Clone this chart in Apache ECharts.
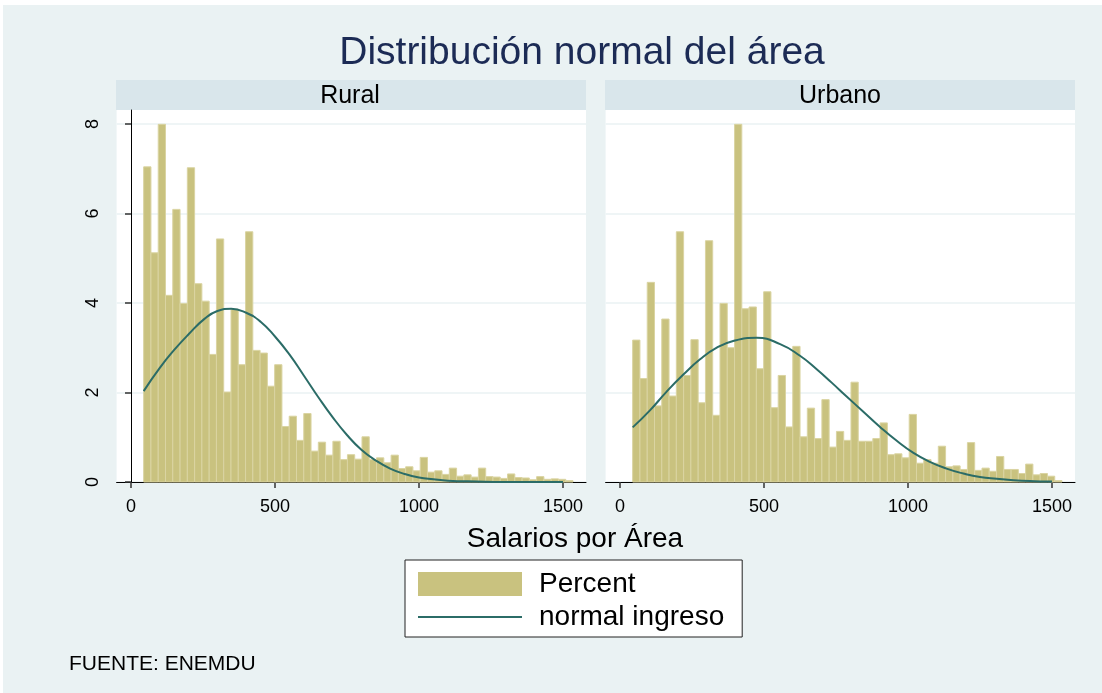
<!DOCTYPE html>
<html>
<head>
<meta charset="utf-8">
<script src="https://cdn.jsdelivr.net/npm/echarts@6/dist/echarts.min.js"></script>
<style>
html,body{margin:0;padding:0;background:#ffffff;}
#bg{position:absolute;left:3px;top:5px;width:1099px;height:688px;background:#EAF2F3;}
#chart{position:absolute;left:0;top:0;width:1102px;height:693px;}
</style>
</head>
<body>
<div id="bg"></div>
<div id="chart"></div>
<script>
// ---- data ----
const panels = ['Rural', 'Urbano'];
const BIN_START = 44;      // lower edge of first bin (Salarios)
const BIN_WIDTH = 25.27;   // bin width
const ruralPct = [7.04,5.12,7.99,4.17,6.09,3.99,7.02,4.43,4.04,2.85,
  5.43,2.01,3.86,2.62,5.59,2.94,2.88,2.14,2.62,1.24,
  1.47,0.93,1.53,0.69,0.89,0.60,0.91,0.50,0.61,0.51,
  1.01,0.50,0.54,0.43,0.60,0.30,0.34,0.25,0.55,0.22,
  0.25,0.17,0.31,0.13,0.16,0.11,0.31,0.12,0.11,0.08,
  0.18,0.10,0.09,0.05,0.12,0.06,0.07,0.06,0.03];
const urbanPct = [3.17,2.31,4.46,1.70,3.64,1.92,5.59,2.38,3.18,1.77,
  5.39,1.49,3.99,3.00,7.99,3.87,3.91,2.53,4.25,1.66,
  2.38,1.23,3.03,1.01,1.65,0.97,1.84,0.78,1.13,0.93,
  2.23,0.91,0.91,0.97,1.32,0.61,0.63,0.54,1.51,0.42,
  0.50,0.42,0.80,0.34,0.36,0.28,0.88,0.26,0.31,0.24,
  0.57,0.28,0.28,0.19,0.40,0.16,0.19,0.13,0.03];
const ruralNormalX = [44,100,150,200,256,300,348,400,450,500,550,600,650,700,750,800,850,900,950,1000,1050,1100,1200,1300,1500];
const ruralNormalY = [2.03,2.55,2.95,3.30,3.65,3.82,3.87,3.78,3.58,3.25,2.85,2.38,1.90,1.45,1.05,0.72,0.48,0.30,0.18,0.10,0.06,0.03,0.01,0.00,0.00];
const urbanNormalX = [44,104,162,220,278,336,393,475,556,625,683,735,787,845,903,961,1019,1076,1134,1192,1250,1308,1366,1424,1482,1500];
const urbanNormalY = [1.22,1.60,2.02,2.40,2.74,3.00,3.15,3.22,3.08,2.82,2.52,2.22,1.91,1.57,1.23,0.92,0.65,0.45,0.30,0.19,0.11,0.07,0.04,0.02,0.01,0.01];
const xTicks = [0, 500, 1000, 1500];
const yTicks = [0, 2, 4, 6, 8];
const titleText = 'Distribución normal del área';
const xTitle = 'Salarios por Área';
const legendNames = ['Percent', 'normal ingreso'];
const noteText = 'FUENTE: ENEMDU';

// ---- build ----
const FONT = '"Liberation Sans", Arial, sans-serif';
const BAR_FILL = '#C9C27F';
const BAR_EDGE = '#DAD4A2';
const LINE_COL = '#2B6C67';

function histData(pcts){
  return pcts.map((v,i)=>[BIN_START + i*BIN_WIDTH, BIN_START + (i+1)*BIN_WIDTH, v]);
}
function pairs(xs, ys){ return xs.map((x,i)=>[x, ys[i]]); }

const grids = [
  {left:116.6, top:110, width:469.4, height:372},
  {left:605.6, top:110, width:469.4, height:372}
];

function renderBar(params, api){
  const p0 = api.coord([api.value(0), api.value(2)]);
  const p1 = api.coord([api.value(1), 0]);
  return {type:'rect', shape:{x:p0[0], y:p0[1], width:p1[0]-p0[0], height:p1[1]-p0[1]},
    style:{fill:BAR_FILL, stroke:BAR_EDGE, lineWidth:1}};
}

const chart = echarts.init(document.getElementById('chart'), null, {renderer:'canvas'});
const option = {
  backgroundColor:'transparent',
  animation:false,
  title:[
    {text:titleText, left:577, top:29, textAlign:'center',
     textStyle:{fontFamily:FONT, fontSize:39, fontWeight:'normal', color:'#1C2B55'}},
    {text:xTitle, left:570, top:520, textAlign:'center',
     textStyle:{fontFamily:FONT, fontSize:28, fontWeight:'normal', color:'#000'}},
    {text:noteText, left:64, top:649,
     textStyle:{fontFamily:FONT, fontSize:21, fontWeight:'normal', color:'#000'}}
  ],
  graphic:[
    {type:'rect', shape:{x:116, y:80, width:470, height:30}, style:{fill:'#D9E6EB'}},
    {type:'rect', shape:{x:605, y:80, width:470, height:30}, style:{fill:'#D9E6EB'}},
    {type:'text', x:350, y:96, style:{text:panels[0], font:'25px '+FONT, fill:'#000', align:'center', verticalAlign:'middle'}},
    {type:'text', x:840, y:96, style:{text:panels[1], font:'25px '+FONT, fill:'#000', align:'center', verticalAlign:'middle'}}
  ],
  legend:{
    data:[{name:legendNames[0], icon:'rect'},
          {name:legendNames[1], icon:'path://M0,0H104V2H0Z'}],
    orient:'vertical', left:405, top:560,
    itemWidth:104, itemHeight:24, itemGap:5, symbolKeepAspect:true,
    padding:[10,18,6,13],
    backgroundColor:'#ffffff', borderColor:'#222', borderWidth:1, borderRadius:0,
    textStyle:{fontFamily:FONT, fontSize:28, lineHeight:24, color:'#000', padding:[0,0,0,12]},
    selectedMode:false
  },
  grid: grids.map(g=>Object.assign({show:true, backgroundColor:'#ffffff', borderWidth:0}, g)),
  xAxis: [0,1].map(i=>({
    type:'value', gridIndex:i, min:-50, max:1580, interval:500,
    axisLine:{show:true, onZero:false, lineStyle:{color:'#000', width:1}},
    axisTick:{show:true, length:6, lineStyle:{color:'#333', width:1.5}, customValues:xTicks},
    axisLabel:{fontFamily:FONT, fontSize:18, color:'#000', margin:16, customValues:xTicks,
      formatter:v=>String(v)},
    splitLine:{show:false}
  })),
  yAxis: [0,1].map(i=>({
    type:'value', gridIndex:i, min:0, max:8.31, interval:2,
    axisLine:{show:i===0, lineStyle:{color:'#000', width:1}},
    axisTick:{show:i===0, length:6, lineStyle:{color:'#333', width:1.5}, customValues:yTicks},
    axisLabel:{show:i===0, fontFamily:FONT, fontSize:18, color:'#000', rotate:90, margin:15, customValues:yTicks,
      formatter:v=>String(v)},
    splitLine:{show:true, lineStyle:{color:'#EAF2F3', width:1.5}}
  })),
  series:[
    {name:legendNames[0], type:'custom', xAxisIndex:0, yAxisIndex:0, renderItem:renderBar,
     itemStyle:{color:BAR_FILL}, encode:{x:[0,1], y:2}, data:histData(ruralPct), z:2},
    {name:legendNames[0], type:'custom', xAxisIndex:1, yAxisIndex:1, renderItem:renderBar,
     itemStyle:{color:BAR_FILL}, encode:{x:[0,1], y:2}, data:histData(urbanPct), z:2},
    {name:legendNames[1], type:'line', xAxisIndex:0, yAxisIndex:0, smooth:true, symbol:'none',
     lineStyle:{color:LINE_COL, width:2}, itemStyle:{color:LINE_COL}, data:pairs(ruralNormalX, ruralNormalY), z:3},
    {name:legendNames[1], type:'line', xAxisIndex:1, yAxisIndex:1, smooth:true, symbol:'none',
     lineStyle:{color:LINE_COL, width:2}, itemStyle:{color:LINE_COL}, data:pairs(urbanNormalX, urbanNormalY), z:3}
  ]
};
chart.setOption(option);
</script>
</body>
</html>
